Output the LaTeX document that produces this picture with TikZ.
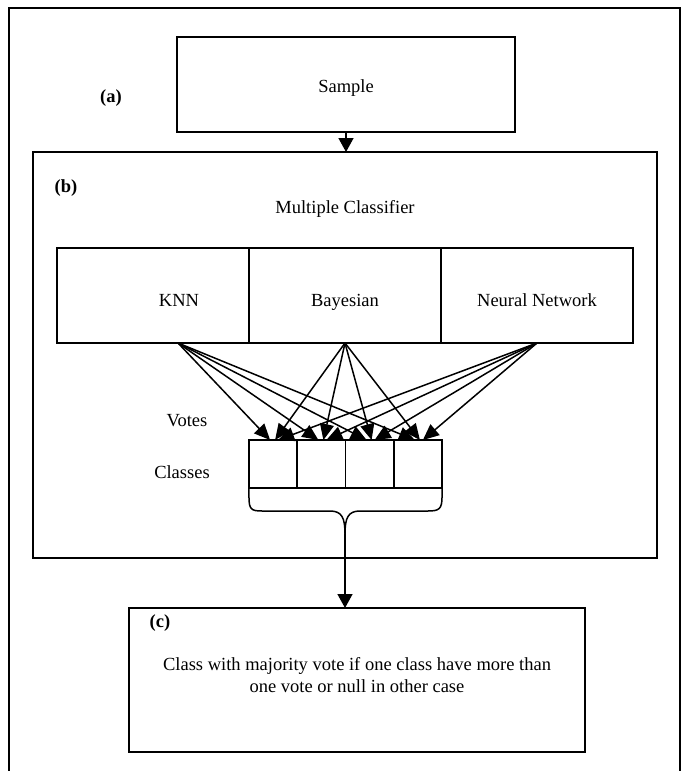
\documentclass[tikz,border=0pt]{standalone}
\usepackage{fontspec}
\setmainfont{Liberation Serif}
\usetikzlibrary{arrows.meta,calc}
\begin{document}
\begin{tikzpicture}[x=1pt,y=-1pt,
  line width=1.5pt,
  every node/.style={font=\fontsize{18.5}{22}\selectfont},
  txt/.style={text height=12.5pt,text depth=4pt,inner sep=0pt},
  box/.style={draw,inner sep=0pt,outer sep=0pt},
  lbl/.style={txt,font=\fontsize{18.5}{22}\selectfont\bfseries},
  arr/.style={-{Triangle[length=14pt,width=15pt]}},
  varr/.style={-{Triangle[length=16pt,width=14pt]}}]
\useasboundingbox (0,0) rectangle (686,771);
% outer frame (open at the bottom)
\draw (9,771) -- (9,8) -- (680,8) -- (680,771);
% (a)
\node[box,minimum width=338pt,minimum height=95pt] (sample) at (346,84.5) {};
\node[txt] (sampletxt) at (346,88) {Sample};
\node[lbl] (la) at (111,98) {(a)};
% (b)
\node[box,minimum width=624pt,minimum height=406pt] (mc) at (345,355) {};
\node[lbl] (lb) at (66,188) {(b)};
\node[txt] (mctitle) at (345,209) {Multiple Classifier};
\draw[arr] (sample.south) -- (sample.south |- mc.north);
\node[box,minimum width=192pt,minimum height=95pt] (knn) at (153,295.5) {};
\node[box,minimum width=192pt,minimum height=95pt] (bay) at (345,295.5) {};
\node[box,minimum width=192pt,minimum height=95pt] (nn) at (537,295.5) {};
\node[txt] (knntxt) at (179,302) {KNN};
\node[txt] (baytxt) at (345,302) {Bayesian};
\node[txt] (nntxt) at (537,302) {Neural Network};
\coordinate (sk) at (178,343);
\coordinate (sb) at (bay.south);
\coordinate (sn) at (nn.south);
\node[txt] (votes) at (187,422) {Votes};
\node[txt] (classes) at (182,474) {Classes};
\foreach \i/\x in {1/273.1,2/321.4,3/369.6,4/417.9}{
  \node[box,minimum width=48.25pt,minimum height=48pt] (c\i) at (\x,464) {};
}
\foreach \i in {1,2,3,4}{
  \draw[varr] (sk) -- ($(c\i.north)+(-3,0)$);
  \draw[varr] (sb) -- ($(c\i.north)+(2,0)$);
  \draw[varr] (sn) -- ($(c\i.north)+(5,0)$);
}
% brace under the classes
\coordinate (tip) at (345,534);
\draw (c1.south west) -- ++(0,9) .. controls +(0,12) and (251,511) .. (262,511)
  -- (330,511) .. controls (342,511) and (345,518) .. (tip);
\draw (c4.south east) -- ++(0,9) .. controls +(0,12) and (439,511) .. (428,511)
  -- (360,511) .. controls (348,511) and (345,518) .. (tip);
% (c)
\node[box,minimum width=456pt,minimum height=144pt] (cbox) at (357,680) {};
\node[lbl] (lc) at (160,623) {(c)};
\node[align=center] (ctxt) at (357,675) {Class with majority vote if one class have more than\\one vote or null in other case};
\draw[arr] (tip) -- (tip |- cbox.north);
\end{tikzpicture}
\end{document}
